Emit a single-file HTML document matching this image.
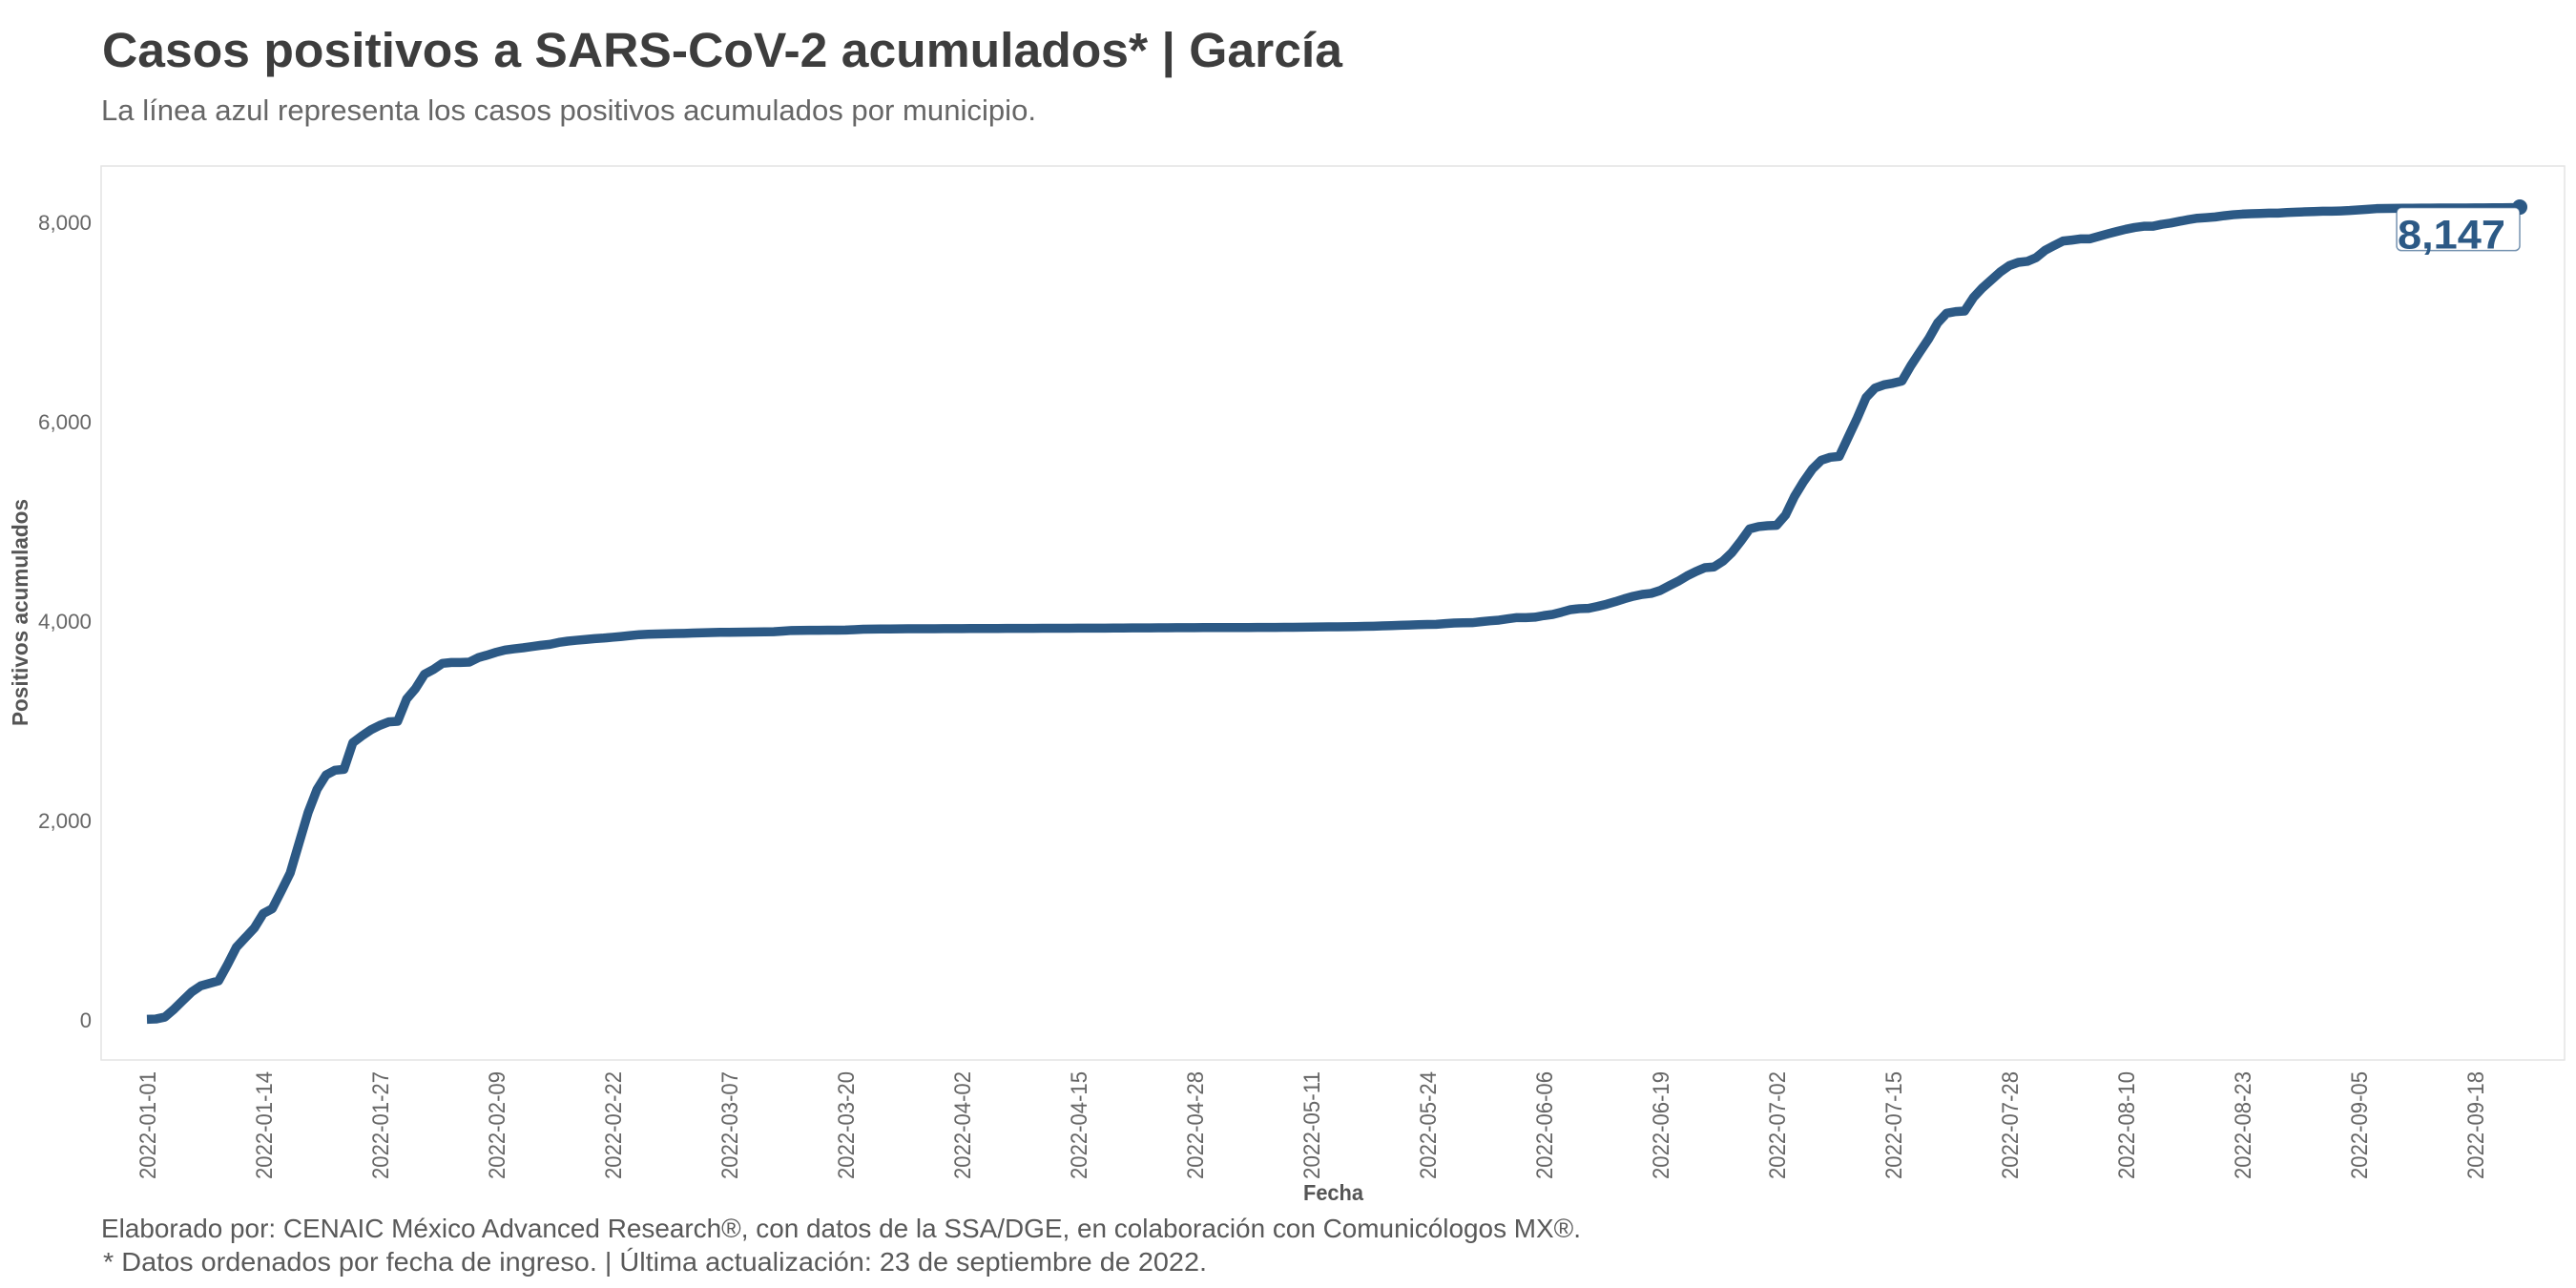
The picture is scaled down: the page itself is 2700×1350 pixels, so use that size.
<!DOCTYPE html>
<html lang="es">
<head>
<meta charset="utf-8">
<title>Casos positivos a SARS-CoV-2 acumulados | García</title>
<style>
html,body{margin:0;padding:0;background:#fff;}
svg{display:block;}
text{font-family:"Liberation Sans",sans-serif;}
</style>
</head>
<body>
<svg id="chart" xmlns="http://www.w3.org/2000/svg" width="2700" height="1350" viewBox="0 0 2700 1350">
  <rect x="0" y="0" width="2700" height="1350" fill="#ffffff"/>
  <text x="107" y="70" font-size="51" font-weight="700" fill="#3d3d3d" textLength="1300" lengthAdjust="spacingAndGlyphs">Casos positivos a SARS-CoV-2 acumulados* | García</text>
  <text x="106" y="126" font-size="31" fill="#666666" textLength="980" lengthAdjust="spacingAndGlyphs">La línea azul representa los casos positivos acumulados por municipio.</text>
  <rect x="106" y="174" width="2582" height="937" fill="#ffffff" stroke="#e4e4e4" stroke-width="1.5"/>
  <g id="y-axis"></g>
  <g id="x-axis"></g>
  <g id="series"></g>
  <text x="1366" y="1258" font-size="23" font-weight="700" fill="#555555" textLength="63" lengthAdjust="spacingAndGlyphs">Fecha</text>
  <text transform="translate(29,761) rotate(-90)" font-size="23" font-weight="700" fill="#555555" textLength="238" lengthAdjust="spacingAndGlyphs">Positivos acumulados</text>
  <text x="106" y="1297" font-size="28" fill="#595959" textLength="1551" lengthAdjust="spacingAndGlyphs">Elaborado por: CENAIC México Advanced Research®, con datos de la SSA/DGE, en colaboración con Comunicólogos MX®.</text>
  <text x="108" y="1332" font-size="28" fill="#595959" textLength="1157" lengthAdjust="spacingAndGlyphs">* Datos ordenados por fecha de ingreso. | Última actualización: 23 de septiembre de 2022.</text>
</svg>
<script>
const startDate = "2022-01-01";
const positiveCases = [
  6,9,28,105,194,280,341,367,392,555,
  730,826,922,1068,1116,1292,1473,1777,2080,2312,
  2456,2504,2513,2781,2848,2909,2954,2989,2995,3218,
  3324,3467,3515,3576,3585,3585,3588,3633,3659,3687,
  3710,3722,3732,3745,3757,3767,3786,3799,3808,3816,
  3824,3830,3838,3846,3855,3864,3868,3871,3873,3875,
  3877,3880,3883,3885,3887,3888,3889,3890,3891,3892,
  3894,3899,3906,3907,3908,3908,3909,3909,3910,3914,
  3919,3920,3921,3921,3922,3923,3923,3924,3924,3925,
  3925,3925,3926,3926,3926,3926,3927,3927,3927,3927,
  3928,3928,3928,3928,3929,3929,3930,3930,3931,3931,
  3932,3932,3932,3933,3933,3934,3934,3934,3935,3935,
  3935,3936,3936,3936,3937,3937,3937,3938,3938,3939,
  3940,3941,3942,3943,3944,3945,3947,3949,3952,3955,
  3958,3961,3964,3966,3968,3975,3981,3983,3984,3994,
  4003,4010,4023,4035,4035,4039,4055,4067,4090,4115,
  4125,4128,4147,4169,4195,4224,4249,4268,4278,4307,
  4354,4399,4453,4498,4536,4543,4600,4686,4801,4925,
  4948,4957,4961,5063,5250,5397,5525,5614,5643,5652,
  5844,6035,6243,6338,6370,6386,6408,6562,6699,6833,
  6992,7088,7104,7110,7247,7343,7423,7503,7566,7598,
  7608,7646,7719,7767,7812,7822,7834,7834,7860,7885,
  7908,7930,7948,7960,7960,7979,7992,8010,8027,8041,
  8047,8054,8066,8076,8082,8086,8089,8092,8092,8098,
  8102,8105,8108,8111,8111,8114,8118,8124,8130,8137,
  8139,8140,8141,8141,8142,8142,8143,8143,8144,8144,
  8145,8145,8146,8146,8147,8147
];
const yTickValues = [0,2000,4000,6000,8000];
const xTickLabels = [
  "2022-01-01","2022-01-14","2022-01-27","2022-02-09","2022-02-22","2022-03-07","2022-03-20",
  "2022-04-02","2022-04-15","2022-04-28","2022-05-11","2022-05-24","2022-06-06","2022-06-19",
  "2022-07-02","2022-07-15","2022-07-28","2022-08-10","2022-08-23","2022-09-05","2022-09-18"
];

const SVG_NS = "http://www.w3.org/2000/svg";
const DAY_MS = 86400000;
function dayIndex(label){ return (Date.parse(label) - Date.parse(startDate)) / DAY_MS; }
function xScale(day){ return 154 + day * 9.385; }
function yScale(value){ return 1069 - value * 0.1045; }
function formatNumber(value){ return value.toLocaleString("en-US"); }
function make(tag, attrs){
  const el = document.createElementNS(SVG_NS, tag);
  for (const key in attrs) el.setAttribute(key, attrs[key]);
  return el;
}

const yAxisGroup = document.getElementById("y-axis");
yTickValues.forEach(function(value){
  const label = formatNumber(value);
  const el = make("text", {x: 96, y: yScale(value) + 8, "font-size": 22, fill: "#666666", "text-anchor": "end"});
  
  
  if (label.length > 1) {
    el.setAttribute("textLength", 56);
    el.setAttribute("lengthAdjust", "spacingAndGlyphs");
  }
  el.textContent = label;
  yAxisGroup.appendChild(el);
});

const xAxisGroup = document.getElementById("x-axis");
xTickLabels.forEach(function(label){
  const px = xScale(dayIndex(label));
  const el = make("text", {
    transform: "translate(" + (px + 9) + ",1236) rotate(-90)",
    "font-size": 24, fill: "#666666", textLength: 113, lengthAdjust: "spacingAndGlyphs"
  });
  
  
  el.textContent = label;
  xAxisGroup.appendChild(el);
});

const seriesGroup = document.getElementById("series");
const lineColor = "#2c5985";
const linePoints = positiveCases.map(function(value, i){
  return xScale(i).toFixed(2) + "," + yScale(value).toFixed(2);
}).join(" ");
const casesLine = make("polyline", {
  points: linePoints, fill: "none", stroke: lineColor, "stroke-width": 9.5,
  "stroke-linejoin": "round", "stroke-linecap": "butt"
});


seriesGroup.appendChild(casesLine);

const lastIndex = positiveCases.length - 1;
const lastValue = positiveCases[lastIndex];
const lastX = xScale(lastIndex);
const lastY = yScale(lastValue);

const endDot = make("circle", {cx: lastX, cy: lastY - 0.6, r: 8, fill: lineColor});


seriesGroup.appendChild(endDot);

const labelBox = make("rect", {
  x: lastX - 129, y: lastY, width: 129, height: 45, rx: 5, ry: 5,
  fill: "#ffffff", stroke: lineColor, "stroke-opacity": 0.65, "stroke-width": 1.5
});


seriesGroup.appendChild(labelBox);

const labelText = make("text", {
  x: lastX - 128, y: lastY + 43, "font-size": 43, "font-weight": 700,
  fill: lineColor, textLength: 113, lengthAdjust: "spacingAndGlyphs"
});


labelText.textContent = formatNumber(lastValue);
seriesGroup.appendChild(labelText);
</script>
</body>
</html>
